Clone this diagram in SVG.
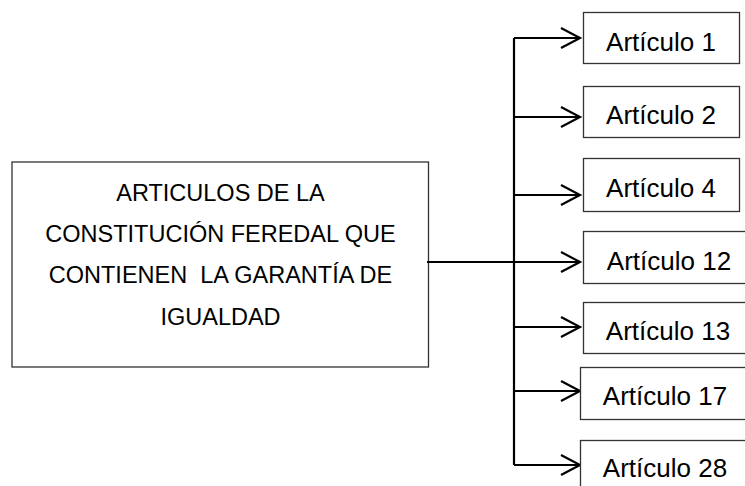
<svg xmlns="http://www.w3.org/2000/svg" width="745" height="486" viewBox="0 0 745 486">
<style>
.box{fill:#fff;stroke:#333;stroke-width:1.3}
.lbl{font-family:"Liberation Sans",Arial,sans-serif;font-size:26px;fill:#000;text-anchor:middle}
.main{font-family:"Liberation Sans",Arial,sans-serif;font-size:23.5px;fill:#000;text-anchor:middle}
.con{stroke:#000;stroke-width:2.2;fill:none}
</style>
<defs>
<marker id="arr" markerUnits="userSpaceOnUse" markerWidth="24" markerHeight="24" refX="21" refY="12" orient="auto">
<path d="M2,2 L21,12 L2,22" fill="none" stroke="#000" stroke-width="2.2"/>
</marker>
</defs>
<rect width="745" height="486" fill="#fff"/>
<g id="main">
<rect class="box" x="12" y="162" width="416.5" height="205"/>
<text class="main" x="220.5" y="201">ARTICULOS DE LA</text>
<text class="main" x="220.5" y="242">CONSTITUCIÓN FEREDAL QUE</text>
<text class="main" x="220.5" y="283" xml:space="preserve">CONTIENEN  LA GARANTÍA DE</text>
<text class="main" x="220.5" y="325">IGUALDAD</text>
</g>
<g id="connectors">
<line class="con" x1="514" y1="38" x2="514" y2="465"/>
<line class="con" x1="514" y1="38" x2="580" y2="38" marker-end="url(#arr)"/>
<line class="con" x1="514" y1="117" x2="580" y2="117" marker-end="url(#arr)"/>
<line class="con" x1="514" y1="195" x2="580" y2="195" marker-end="url(#arr)"/>
<line class="con" x1="427" y1="262" x2="580" y2="262" marker-end="url(#arr)"/>
<line class="con" x1="514" y1="327" x2="580" y2="327" marker-end="url(#arr)"/>
<line class="con" x1="514" y1="391" x2="580" y2="391" marker-end="url(#arr)"/>
<line class="con" x1="514" y1="465" x2="580" y2="465" marker-end="url(#arr)"/>
</g>
<g id="a1"><rect class="box" x="583.5" y="12.5" width="156" height="51"/><text class="lbl" x="661" y="51">Artículo 1</text></g>
<g id="a2"><rect class="box" x="583.5" y="86.5" width="156" height="51"/><text class="lbl" x="661" y="124">Artículo 2</text></g>
<g id="a4"><rect class="box" x="583.5" y="158.5" width="156" height="53"/><text class="lbl" x="661" y="197">Artículo 4</text></g>
<g id="a12"><rect class="box" x="583.5" y="231.5" width="180" height="52"/><text class="lbl" x="669" y="270">Artículo 12</text></g>
<g id="a13"><rect class="box" x="583.5" y="302.5" width="180" height="51"/><text class="lbl" x="668" y="340">Artículo 13</text></g>
<g id="a17"><rect class="box" x="580.5" y="367.5" width="180" height="52"/><text class="lbl" x="665" y="405">Artículo 17</text></g>
<g id="a28"><rect class="box" x="580.5" y="440.5" width="180" height="60"/><text class="lbl" x="665" y="477">Artículo 28</text></g>
</svg>
